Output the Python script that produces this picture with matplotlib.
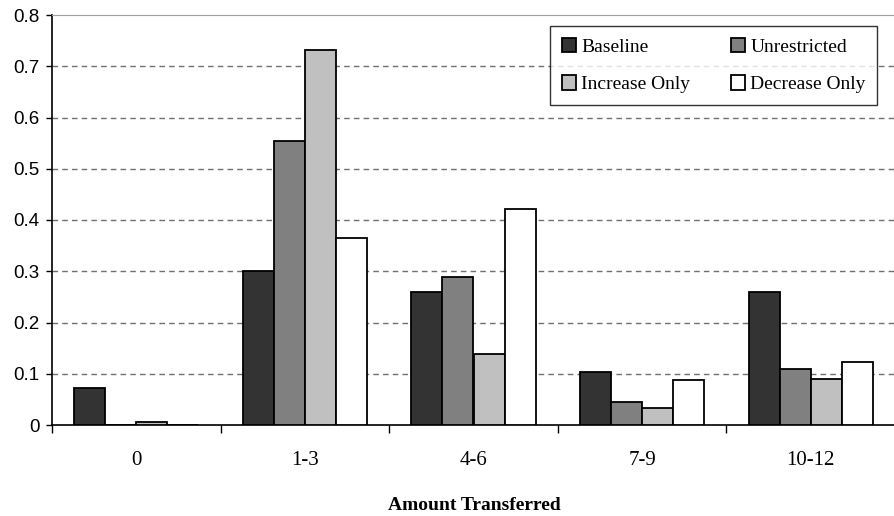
import numpy as np
import matplotlib
matplotlib.use("Agg")
import matplotlib.pyplot as plt

# -------- data --------
categories = ["0", "1-3", "4-6", "7-9", "10-12"]
series_names = ["Baseline", "Unrestricted", "Increase Only", "Decrease Only"]
baseline = [0.072, 0.300, 0.260, 0.104, 0.260]
unrestricted = [0.0, 0.555, 0.288, 0.044, 0.110]
increase_only = [0.005, 0.732, 0.138, 0.033, 0.089]
decrease_only = [0.0, 0.365, 0.421, 0.088, 0.123]
y_ticks = [0, 0.1, 0.2, 0.3, 0.4, 0.5, 0.6, 0.7, 0.8]
y_labels = ["0", "0.1", "0.2", "0.3", "0.4", "0.5", "0.6", "0.7", "0.8"]

colors = ["#333333", "#808080", "#c0c0c0", "#ffffff"]
serif = "Liberation Serif"
sans = "Liberation Sans"

fig = plt.figure(figsize=(8.95, 5.16), dpi=100)
ax = fig.add_axes([52 / 895, 91 / 516, 1 - 52 / 895, 410 / 516])

x = np.arange(len(categories))
w = 0.184
bars = []
for i, (vals, name, c) in enumerate(zip([baseline, unrestricted, increase_only, decrease_only],
                                        series_names, colors)):
    b = ax.bar(x + (i - 1.5) * w, vals, width=w, color=c, edgecolor="black",
               linewidth=1.3, label=name, zorder=3)
    bars.append(b)

ax.set_xlim(-0.5, len(categories) - 0.5)
ax.set_ylim(0, 0.8)

# grid lines
for t in y_ticks[1:-1]:
    ax.axhline(t, color="#707070", linestyle=(0, (4, 3)), linewidth=1.0, zorder=1)

ax.spines["right"].set_visible(False)
ax.spines["top"].set_color("#a0a0a0")
ax.spines["left"].set_linewidth(1.2)
ax.spines["bottom"].set_linewidth(1.2)

ax.set_yticks(y_ticks)
ax.set_yticklabels(y_labels, fontfamily=sans, fontsize=13.5)
ax.tick_params(axis="y", length=4, width=1, direction="out", pad=5)

# category boundaries as ticks, labels in the middle
ax.set_xticks(np.arange(len(categories) + 1) - 0.5)
ax.set_xticklabels([])
ax.tick_params(axis="x", which="major", length=6, width=1, direction="out")
ax.set_xticks(x, minor=True)
ax.set_xticklabels(categories, minor=True, fontfamily=serif, fontsize=15)
ax.tick_params(axis="x", which="minor", length=0, pad=19)

fig.text(474 / 895, 1 - 505 / 516, "Amount Transferred", fontfamily=serif,
         fontsize=14, fontweight="bold", ha="center", va="center")

# row order: Baseline, Unrestricted / Increase Only, Decrease Only
order = [0, 2, 1, 3]
leg = ax.legend([bars[k] for k in order], [series_names[k] for k in order],
                ncol=2, loc="upper right", bbox_to_anchor=(0.979, 0.972),
                prop={"family": serif, "size": 14}, frameon=True, fancybox=False,
                handlelength=0.75, handleheight=0.75, handletextpad=0.25,
                columnspacing=2.1, labelspacing=1.0, borderpad=0.6,
                borderaxespad=0)
leg.get_frame().set_edgecolor("black")
leg.get_frame().set_linewidth(1.0)

fig.savefig("out.png", dpi=100)
